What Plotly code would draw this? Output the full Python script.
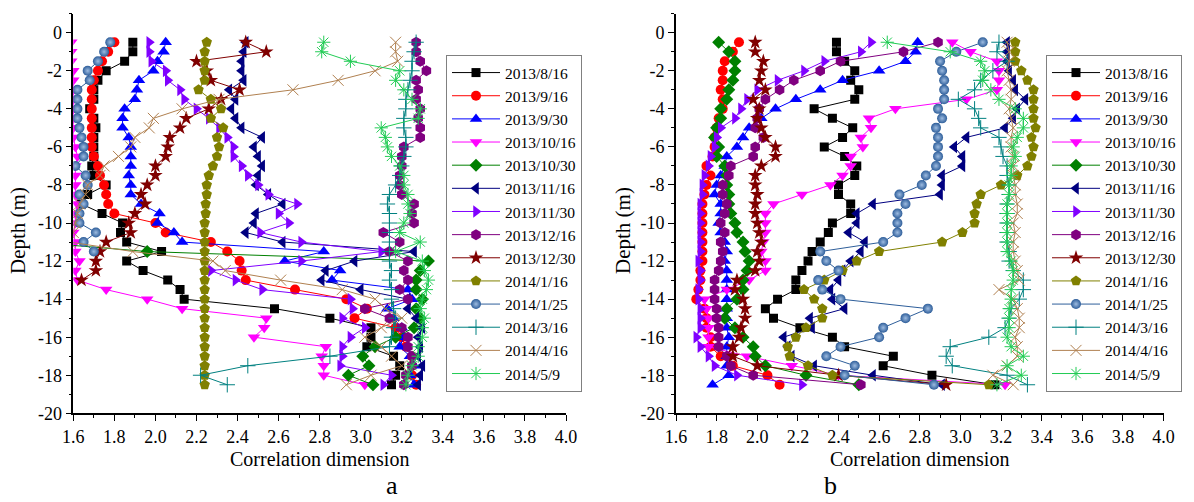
import plotly.graph_objects as go

W, H = 1194, 502

# ---------------- data ----------------
DEPTH = [-0.5, -1.0, -1.5, -2.0, -2.5, -3.0, -3.5, -4.0, -4.5, -5.0, -5.5, -6.0, -6.5,
         -7.0, -7.5, -8.0, -8.5, -9.0, -9.5, -10.0, -10.5, -11.0, -11.5, -12.0, -12.5,
         -13.0, -13.5, -14.0, -14.5, -15.0, -15.5, -16.0, -16.5, -17.0, -17.5, -18.0, -18.5]

DATES = ["2013/8/16", "2013/9/16", "2013/9/30", "2013/10/16", "2013/10/30", "2013/11/16",
         "2013/11/30", "2013/12/16", "2013/12/30", "2014/1/16", "2014/1/25", "2014/3/16",
         "2014/4/16", "2014/5/9"]

# panel a
a_0816 = [1.89, 1.89, 1.85, 1.76, 1.72, 1.70, 1.70, 1.68, 1.70, 1.71, 1.70, 1.70, 1.70, 1.69, 1.70, 1.76, 1.67, 1.64, 1.74,
          1.84, 1.83, 1.86, 2.03, 1.86, 1.94, 2.06, 2.12, 2.14, 2.58, 2.85, 3.05, 3.05, 3.03, 3.16, 3.19, 3.17, 3.15]
a_0916 = [1.80, 1.77, 1.74, 1.72, 1.70, 1.69, 1.69, 1.69, 1.69, 1.69, 1.69, 1.69, 1.70, 1.72, 1.73, 1.75, 1.76, 1.77, 1.80,
          2.00, 2.05, 2.27, 2.35, 2.41, 2.42, 2.44, 2.68, 2.93, 3.03, 2.97, 3.17, 3.20, 3.22, 3.25, 3.25, 3.25, 3.27]
a_0930 = [2.05, 2.04, 2.01, 1.99, 1.92, 1.91, 1.90, 1.85, 1.84, 1.84, 1.87, 1.88, 1.88, 1.88, 1.87, 1.88, 1.88, 1.93, 2.02,
          2.01, 2.09, 2.13, 2.82, 2.63, 2.90, 2.86, 3.23, 3.25, 3.13, 3.16, 3.20, 3.21, 3.19, 3.24, 3.26, 3.24, 3.26]
a_1016 = [1.59, 1.59, 1.59, 1.60, 1.60, 1.60, 1.60, 1.60, 1.60, 1.60, 1.60, 1.61, 1.62, 1.61, 1.61, 1.61, 1.61, 1.62, 1.61,
          1.61, 1.60, 1.61, 1.61, 1.63, 1.61, 1.62, 1.76, 1.96, 2.13, 2.54, 2.53, 2.48, 2.83, 2.81, 2.82, 2.82, 3.02]
a_1030 = [1.40, 1.40, 1.40, 1.40, 1.40, 1.40, 1.40, 1.40, 1.40, 1.40, 1.40, 1.40, 1.40, 1.40, 1.40, 1.40, 1.40, 1.40, 1.40,
          1.40, 1.40, 1.40, 1.96, 3.33, 3.29, 3.27, 3.27, 3.30, 3.27, 3.29, 3.26, 3.17, 3.07, 3.01, 3.04, 2.94, 3.06]
a_1116 = [2.44, 2.43, 2.42, 2.42, 2.43, 2.36, 2.39, 2.37, 2.39, 2.42, 2.52, 2.48, 2.50, 2.52, 2.50, 2.49, 2.55, 2.62, 2.49,
          2.48, 2.44, 2.62, 3.26, 2.97, 2.83, 2.81, 3.00, 3.23, 3.23, 3.27, 3.30, 3.28, 3.29, 3.28, 3.30, 3.29, 3.28]
a_1130 = [1.97, 1.97, 1.98, 2.05, 2.06, 2.12, 2.14, 2.20, 2.26, 2.31, 2.35, 2.38, 2.38, 2.42, 2.45, 2.50, 2.55, 2.69, 2.60,
          2.65, 2.51, 2.71, 3.10, 2.71, 2.27, 2.39, 2.52, 2.95, 2.96, 2.91, 3.02, 2.95, 2.91, 2.91, 2.90, 3.15, 3.11]
a_1216 = [3.27, 3.27, 3.29, 3.32, 3.27, 3.28, 3.27, 3.29, 3.28, 3.29, 3.29, 3.21, 3.20, 3.20, 3.19, 3.19, 3.20, 3.26, 3.25,
          3.26, 3.11, 3.19, 3.14, 3.23, 3.21, 3.23, 3.19, 3.23, 3.02, 3.14, 3.20, 3.23, 3.23, 3.25, 3.25, 3.22, 3.21]
a_1230 = [2.44, 2.54, 2.20, 2.25, 2.27, 2.41, 2.32, 2.26, 2.15, 2.12, 2.07, 2.06, 2.05, 2.00, 2.00, 1.96, 1.93, 1.95, 1.90,
          1.87, 1.88, 1.76, 1.73, 1.71, 1.71, 1.64, None, None, None, None, None, None, None, None, None, None, None]
a_0116 = [2.25, 2.24, 2.24, 2.24, 2.24, 2.21, 2.27, 2.32, 2.27, 2.33, 2.30, 2.31, 2.30, 2.28, 2.26, 2.25, 2.25, 2.245, 2.245,
          2.24, 2.24, 2.24, 2.24, 2.24, 2.24, 2.24, 2.24, 2.24, 2.24, 2.24, 2.24, 2.24, 2.24, 2.24, 2.24, 2.24, 2.24]
a_0125 = [1.78, 1.75, 1.72, 1.67, 1.68, 1.62, 1.62, 1.62, 1.62, 1.63, 1.64, 1.65, 1.65, 1.61, 1.66, 1.67, 1.63, 1.65, 1.63,
          1.63, 1.71, 1.65, 1.70, None, None, None, None, None, None, None, None, None, None, None, None, None, None]
a_0316 = [3.27, 3.26, 3.25, 3.25, 3.24, 3.23, 3.22, 3.22, 3.21, 3.21, 3.22, 3.22, 3.21, 3.20, 3.19, 3.17, 3.14, 3.13, 3.14,
          3.14, 3.14, 3.14, 3.14, 3.14, 3.15, 3.14, 3.15, 3.15, 3.16, 3.17, 3.16, 3.15, 3.14, 2.85, 2.45, 2.22, 2.35]
a_0416 = [3.17, 3.17, 3.18, 3.07, 2.89, 2.67, 2.31, 2.13, 1.99, 1.97, 1.90, 1.88, 1.82, 1.75, 1.73, 1.67, 1.66, 1.63, 1.62,
          1.61, 1.60, 1.58, 1.89, 2.28, 2.34, 2.61, 2.91, 3.07, 3.12, 3.20, 3.10, 3.02, 3.10, 3.15, 3.20, 3.05, 2.93]
a_0509 = [2.82, 2.81, 2.95, 3.19, 3.17, 3.21, 3.25, 3.29, 3.28, 3.10, 3.12, 3.13, 3.15, 3.19, 3.21, 3.21, 3.23, 3.23, 3.24,
          3.21, 3.19, 3.29, 3.17, 3.30, 3.31, 3.33, 3.32, 3.30, 3.29, 3.31, 3.30, 3.30, 3.28, 3.28, 3.25, 3.23, 3.22]

# panel b
b_0816 = [2.39, 2.39, 2.43, 2.48, 2.46, 2.50, 2.48, 2.28, 2.37, 2.47, 2.42, 2.33, 2.43, 2.49, 2.48, 2.40, 2.40, 2.46, 2.46,
          2.37, 2.35, 2.31, 2.27, 2.25, 2.22, 2.19, 2.19, 2.10, 2.04, 2.08, 2.21, 2.37, 2.43, 2.67, 2.62, 2.86, 3.17]
b_0916 = [1.91, 1.88, 1.84, 1.83, 1.83, 1.82, 1.83, 1.83, 1.81, 1.80, 1.79, 1.79, 1.78, 1.75, 1.77, 1.75, 1.74, 1.73, 1.73,
          1.73, 1.73, 1.73, 1.73, 1.73, 1.72, 1.72, 1.71, 1.70, 1.74, 1.75, 1.75, 1.77, 1.77, 1.82, 1.88, 2.05, 2.11]
b_0930 = [2.79, 2.78, 2.73, 2.60, 2.42, 2.31, 2.19, 2.09, 2.02, 1.96, 1.93, 1.90, 1.85, 1.84, 1.82, 1.80, 1.79, 1.82, 1.82,
          1.81, 1.82, 1.84, 1.85, 1.84, 1.85, 1.85, 1.85, 1.85, 1.85, 1.85, 1.85, 1.86, 1.85, 1.85, 1.85, 1.86, 1.78]
b_1016 = [2.96, 3.05, 3.18, 3.19, 3.19, 3.18, 3.03, 2.68, 2.55, 2.56, 2.51, 2.52, 2.46, 2.46, 2.42, 2.36, 2.22, 2.08, 2.04,
          2.04, 2.04, 2.03, 2.02, 2.04, 2.04, 1.96, 1.85, 1.74, 1.75, 1.76, 1.76, 1.76, 1.76, 1.95, 2.17, 2.40, 3.22]
b_1030 = [1.81, 1.86, 1.89, 1.89, 1.88, 1.86, 1.85, 1.82, 1.82, 1.80, 1.79, 1.81, 1.80, 1.84, 1.85, 1.85, 1.86, 1.86, 1.87,
          1.89, 1.90, 1.93, 1.94, 1.96, 1.95, 1.93, 1.93, 1.90, 1.85, 1.84, 1.89, 1.93, 1.98, 1.99, 2.04, 2.24, 2.50]
b_1116 = [3.23, 3.23, 3.23, 3.24, 3.26, 3.27, 3.32, 3.28, 3.26, 3.22, 3.03, 2.97, 3.01, 3.01, 2.91, 2.91, 2.90, 2.57, 2.49,
          2.49, 2.45, 2.53, 2.51, 2.46, 2.42, 2.40, 2.36, 2.37, 2.43, 2.26, 2.27, 2.13, 2.15, 2.17, 2.28, 2.57, 2.91]
b_1130 = [2.56, 2.51, 2.33, 2.23, 2.10, 2.00, 1.95, 1.92, 1.89, 1.82, 1.80, 1.79, 1.77, 1.76, 1.74, 1.73, 1.73, 1.72, 1.72,
          1.72, 1.72, 1.72, 1.72, 1.71, 1.72, 1.72, 1.71, 1.71, 1.72, 1.72, 1.72, 1.70, 1.72, 1.76, 1.79, 1.90, 2.22]
b_1216 = [2.89, 2.72, 2.41, 2.31, 2.18, 2.11, 2.04, 2.01, 2.00, 1.99, 2.03, 1.99, 1.98, 1.87, 1.86, 1.83, 1.83, 1.85, 1.84,
          1.82, 1.84, 1.82, 1.83, 1.82, 1.81, 1.79, 1.79, 1.79, 1.80, 1.80, 1.81, 1.81, 1.81, 1.85, 1.87, 1.98, 2.51]
b_1230 = [1.99, 1.99, 2.03, 2.02, 2.01, 2.04, 1.98, 2.01, 2.00, 2.02, 2.04, 2.09, 2.09, 2.02, 1.99, 1.99, 2.00, 1.99, 1.99,
          2.00, 2.01, 2.02, 2.00, 2.01, 1.99, 1.90, 1.89, 1.93, 1.94, 1.94, 1.92, 1.91, 1.88, 1.88, 2.00, 2.40, 2.93]
b_0116 = [3.27, 3.27, 3.27, 3.30, 3.33, 3.36, 3.36, 3.36, 3.36, 3.37, 3.35, 3.36, 3.35, 3.33, 3.28, 3.20, 3.10, 3.08, 3.07,
          3.07, 3.01, 2.91, 2.60, 2.49, 2.42, 2.33, 2.23, 2.28, 2.32, 2.32, 2.24, 2.19, 2.15, 2.16, 2.25, 2.37, 3.14]
b_0125 = [3.11, 2.98, 2.90, 2.91, 2.92, 2.92, 2.92, 2.89, 2.91, 2.88, 2.89, 2.89, 2.89, 2.88, 2.83, 2.81, 2.70, 2.73, 2.69,
          2.69, 2.69, 2.62, 2.31, 2.34, 2.40, 2.30, 2.32, 2.41, 2.84, 2.73, 2.62, 2.60, 2.41, 2.34, 2.48, 2.43, 2.87]
b_0316 = [3.19, 3.18, 3.23, 3.16, 3.10, 3.07, 2.99, 3.07, 3.09, 3.10, 3.19, 3.20, 3.21, 3.23, 3.23, 3.24, 3.24, 3.23, 3.23,
          3.23, 3.23, 3.23, 3.24, 3.24, 3.26, 3.31, 3.31, 3.29, 3.25, 3.24, 3.22, 3.14, 2.95, 2.93, 2.96, 3.23, 3.33]
b_0416 = [3.23, 3.24, 3.24, 3.23, 3.24, 3.25, 3.25, 3.24, 3.25, 3.26, 3.25, 3.25, 3.26, 3.26, 3.26, 3.27, 3.27, 3.28, 3.28,
          3.26, 3.27, 3.26, 3.26, 3.27, 3.28, 3.29, 3.19, 3.26, 3.28, 3.29, 3.29, 3.27, 3.28, 3.28, 3.23, 3.16, 3.26]
b_0509 = [2.64, 2.95, 3.10, 3.12, 3.11, 3.15, 3.19, 3.27, 3.31, 3.31, 3.28, 3.26, 3.27, 3.25, 3.25, 3.24, 3.24, 3.23, 3.23,
          3.23, 3.23, 3.23, 3.23, 3.25, 3.26, 3.26, 3.25, 3.25, 3.24, 3.24, 3.24, 3.23, 3.25, 3.31, 3.23, 3.30, 3.18]

PANEL_A = [a_0816, a_0916, a_0930, a_1016, a_1030, a_1116, a_1130, a_1216, a_1230, a_0116, a_0125, a_0316, a_0416, a_0509]
PANEL_B = [b_0816, b_0916, b_0930, b_1016, b_1030, b_1116, b_1130, b_1216, b_1230, b_0116, b_0125, b_0316, b_0416, b_0509]

X_TICKS = [1.6, 1.8, 2.0, 2.2, 2.4, 2.6, 2.8, 3.0, 3.2, 3.4, 3.6, 3.8, 4.0]
X_TICK_TEXT = ["1.6", "1.8", "2.0", "2.2", "2.4", "2.6", "2.8", "3.0", "3.2", "3.4", "3.6", "3.8", "4.0"]
Y_TICKS = [0, -2, -4, -6, -8, -10, -12, -14, -16, -18, -20]
Y_TICK_TEXT = ["0", "-2", "-4", "-6", "-8", "-10", "-12", "-14", "-16", "-18", "-20"]

# ---------------- styles ----------------
COLORS = ["#000000", "#FF0000", "#0000FF", "#FF00FF", "#008000", "#000080", "#8000FF",
          "#800080", "#800000", "#808000", "#2E5E9A", "#008080", "#B08050", "#22CC55"]
SYMBOLS = ["square", "circle", "triangle-up", "triangle-down", "diamond", "triangle-left",
           "triangle-right", "hexagon", "star", "pentagon", "circle", "cross-thin-open",
           "x-thin-open", "asterisk-open"]
SIZES = [9, 10, 11, 11, 10, 11, 11, 11, 11, 11, 10, 11, 11, 11]

FONT = "'Liberation Serif', 'Times New Roman', Times, 'DejaVu Serif', serif"


def px_x(p):
    return p / W


def px_y(p):
    return 1 - p / H


fig = go.Figure()

for panel, (data, xa, ya, lg) in enumerate([(PANEL_A, "x", "y", "legend"),
                                             (PANEL_B, "x2", "y2", "legend2")]):
    for k, name in enumerate(DATES):
        col = COLORS[k]
        marker = dict(symbol=SYMBOLS[k], size=SIZES[k], color=col,
                      line=dict(width=0, color=col))
        if SYMBOLS[k].endswith("-open"):
            marker["line"] = dict(width=1, color=col)
        if k == 10:
            marker["gradient"] = dict(type="radial", color="#9DBBE0")
        fig.add_trace(go.Scatter(
            x=data[k], y=DEPTH, name=name, mode="lines+markers",
            xaxis=xa, yaxis=ya, legend=lg,
            line=dict(color=col, width=1),
            marker=marker,
        ))

axis_common = dict(
    showline=True, linecolor="black", linewidth=1.6, mirror=False,
    showgrid=False, zeroline=False, ticks="outside", ticklen=6, tickwidth=1.4,
    tickcolor="black", tickfont=dict(family=FONT, size=18, color="black"),
    automargin=False,
)

x_dom_a = [px_x(73.3), px_x(566)]
x_dom_b = [px_x(676), px_x(1163.5)]
y_dom = [px_y(413.3), px_y(13.7)]

xaxis_cfg = dict(axis_common, range=[1.6, 4.0], tickvals=X_TICKS, ticktext=X_TICK_TEXT,
                 minor=dict(dtick=0.1, ticklen=3, tickwidth=1.2, tickcolor="black", ticks="outside"))
yaxis_cfg = dict(axis_common, range=[-20, 1], tickvals=Y_TICKS, ticktext=Y_TICK_TEXT,
                 minor=dict(dtick=1, ticklen=3, tickwidth=1.2, tickcolor="black", ticks="outside"))

legend_common = dict(
    xanchor="left", yanchor="top", bgcolor="white", bordercolor="#808080", borderwidth=1,
    font=dict(family=FONT, size=15.5, color="black"), itemwidth=48, tracegroupgap=0,
)

fig.update_layout(
    width=W, height=H,
    margin=dict(l=0, r=0, t=0, b=0, autoexpand=False),
    paper_bgcolor="white", plot_bgcolor="white",
    font=dict(family=FONT, color="black"),
    xaxis=dict(xaxis_cfg, domain=x_dom_a, anchor="y"),
    yaxis=dict(yaxis_cfg, domain=y_dom, anchor="x"),
    xaxis2=dict(xaxis_cfg, domain=x_dom_b, anchor="y2"),
    yaxis2=dict(yaxis_cfg, domain=y_dom, anchor="x2"),
    legend=dict(legend_common, x=px_x(446), y=px_y(55)),
    legend2=dict(legend_common, x=px_x(1046), y=px_y(55)),
    showlegend=True,
)

annots = [
    dict(text="Depth (m)", x=px_x(18), y=px_y(231), textangle=-90, size=21),
    dict(text="Depth (m)", x=px_x(623), y=px_y(231), textangle=-90, size=21),
    dict(text="Correlation dimension", x=px_x(319), y=px_y(459), textangle=0, size=20),
    dict(text="Correlation dimension", x=px_x(919), y=px_y(459), textangle=0, size=20),
    dict(text="a", x=px_x(392), y=px_y(485), textangle=0, size=26),
    dict(text="b", x=px_x(830), y=px_y(485), textangle=0, size=26),
]
for a in annots:
    fig.add_annotation(text=a["text"], x=a["x"], y=a["y"], xref="paper", yref="paper",
                       xanchor="center", yanchor="middle", showarrow=False,
                       textangle=a["textangle"],
                       font=dict(family=FONT, size=a["size"], color="black"))

fig.write_html("out.html")
